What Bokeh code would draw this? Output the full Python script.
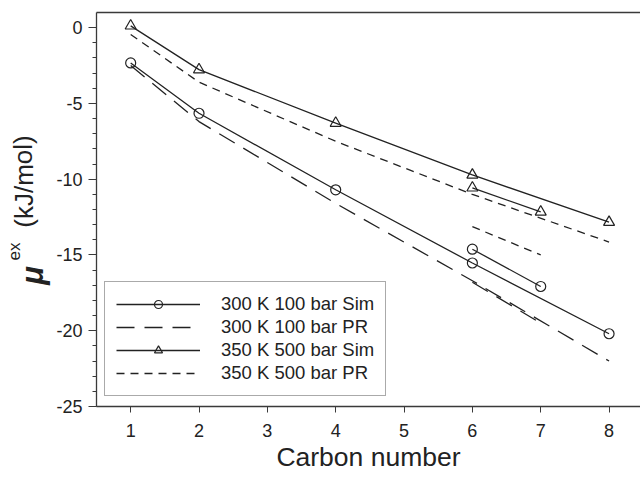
from bokeh.plotting import figure
from bokeh.models import Range1d, LinearAxis, FixedTicker, Legend, LegendItem, Label
from bokeh.layouts import row
from bokeh.embed import file_html
from bokeh.resources import INLINE

# ---- data ----
carbon_main = [1, 2, 4, 6, 8]
carbon_branch = [6, 7]
sim300_main = [-2.33, -5.65, -10.7, -15.53, -20.2]
sim300_branch = [-14.62, -17.08]
pr300_main = [-2.5, -6.2, -11.6, -16.7, -22.0]
pr300_branch = [-16.8, -19.5]
sim350_main = [0.12, -2.77, -6.3, -9.72, -12.84]
sim350_branch = [-10.57, -12.16]
pr350_main = [-0.45, -3.6, -7.5, -11.0, -14.15]
pr350_branch = [-13.13, -15.0]

x_ticks = [1, 2, 3, 4, 5, 6, 7, 8]
y_ticks = [-25, -20, -15, -10, -5, 0]
y_minor = list(range(-25, 1))
labels = ["300 K 100 bar Sim", "300 K 100 bar PR", "350 K 500 bar Sim", "350 K 500 bar PR"]

FONT = "Liberation Sans"
LC = "#222222"
AXC = "#3a3a3a"

TOTAL_H = 477
SIDE_W = 53
FRAME_TOP = 12
FRAME_BOTTOM = 406

p = figure(width=640 - SIDE_W, height=TOTAL_H, output_backend="svg", toolbar_location=None,
           x_range=Range1d(0.5, 8.46), y_range=Range1d(-25, 1),
           min_border_left=41, min_border_right=0, min_border_top=FRAME_TOP,
           min_border_bottom=TOTAL_H - FRAME_BOTTOM)
p.grid.visible = False
p.outline_line_color = None
p.background_fill_color = "white"
p.border_fill_color = "white"

# x axis
xa = p.xaxis[0]
xa.ticker = FixedTicker(ticks=x_ticks)
xa.major_tick_out = 6
xa.major_tick_in = 0
xa.minor_tick_line_color = None
xa.axis_line_color = AXC
xa.axis_line_width = 1.3
xa.major_tick_line_color = AXC
xa.major_label_text_font = FONT
xa.major_label_text_font_size = "18px"
xa.major_label_text_color = LC
xa.major_label_standoff = 11
xa.axis_label = "Carbon number"
xa.axis_label_text_font = FONT
xa.axis_label_text_font_size = "26.5px"
xa.axis_label_text_font_style = "normal"
xa.axis_label_text_color = LC
xa.axis_label_standoff = 2

# y axis
ya = p.yaxis[0]
ya.ticker = FixedTicker(ticks=y_ticks, minor_ticks=y_minor)
ya.major_label_overrides = {t: str(t) for t in y_ticks}
ya.major_tick_out = 8
ya.major_tick_in = 0
ya.minor_tick_out = 4
ya.minor_tick_in = 0
ya.axis_line_color = AXC
ya.axis_line_width = 1.3
ya.major_tick_line_color = AXC
ya.minor_tick_line_color = AXC
ya.major_label_text_font = FONT
ya.major_label_text_font_size = "18px"
ya.major_label_text_color = LC
ya.major_label_standoff = 6

# top frame line
top = LinearAxis(ticker=FixedTicker(ticks=[]), major_tick_out=0, major_tick_in=0,
                 minor_tick_out=0, minor_tick_in=0, major_label_standoff=0,
                 axis_line_color=AXC, axis_line_width=1.3)
p.add_layout(top, "above")

# series
r_sim300_l = p.line(carbon_main, sim300_main, line_color=LC, line_width=1.3)
r_sim300_m = p.scatter(carbon_main, sim300_main, marker="circle", size=10,
                       fill_color=None, line_color=LC, line_width=1.2)
p.line(carbon_branch, sim300_branch, line_color=LC, line_width=1.3)
p.scatter(carbon_branch, sim300_branch, marker="circle", size=10,
          fill_color=None, line_color=LC, line_width=1.2)

r_pr300 = p.line(carbon_main, pr300_main, line_color=LC, line_width=1.3, line_dash="18 10")
p.line(carbon_branch, pr300_branch, line_color=LC, line_width=1.3, line_dash="18 10")

r_sim350_l = p.line(carbon_main, sim350_main, line_color=LC, line_width=1.3)
r_sim350_m = p.scatter(carbon_main, sim350_main, marker="triangle", size=11,
                       fill_color=None, line_color=LC, line_width=1.2)
p.line(carbon_branch, sim350_branch, line_color=LC, line_width=1.3)
p.scatter(carbon_branch, sim350_branch, marker="triangle", size=11,
          fill_color=None, line_color=LC, line_width=1.2)

r_pr350 = p.line(carbon_main, pr350_main, line_color=LC, line_width=1.3, line_dash="8 6")
p.line(carbon_branch, pr350_branch, line_color=LC, line_width=1.3, line_dash="8 6")

legend = Legend(items=[
    LegendItem(label=labels[0], renderers=[r_sim300_l, r_sim300_m]),
    LegendItem(label=labels[1], renderers=[r_pr300]),
    LegendItem(label=labels[2], renderers=[r_sim350_l, r_sim350_m]),
    LegendItem(label=labels[3], renderers=[r_pr350]),
], location=(8, 10))
legend.label_text_font = FONT
legend.label_text_font_size = "18.5px"
legend.label_text_color = LC
legend.glyph_width = 84
legend.glyph_height = 20
legend.label_height = 20
legend.label_standoff = 21
legend.spacing = 1
legend.padding = 11
legend.margin = 0
legend.border_line_color = "#555555"
legend.border_line_width = 1.2
legend.background_fill_color = "white"
legend.background_fill_alpha = 1
p.add_layout(legend)

# side panel (no axes) holding the rotated y-axis title: mu^ex (kJ/mol)
# its frame is aligned with the main frame (top 12 .. bottom 406), so y = pixels above frame bottom
side = figure(width=SIDE_W, height=TOTAL_H, output_backend="svg", toolbar_location=None,
              x_axis_type=None, y_axis_type=None,
              x_range=Range1d(0, SIDE_W), y_range=Range1d(0, FRAME_BOTTOM - FRAME_TOP),
              min_border_left=0, min_border_right=0, min_border_top=FRAME_TOP,
              min_border_bottom=TOTAL_H - FRAME_BOTTOM)
side.grid.visible = False
side.outline_line_color = None
side.background_fill_color = "white"
side.border_fill_color = "white"

side.add_layout(Label(x=32, y=FRAME_BOTTOM - 275, text="\u03bc", angle=1.5708, text_align="center",
                      text_baseline="middle", text_font=FONT, text_font_size="31px",
                      text_font_style="bold italic", text_color=LC))
side.add_layout(Label(x=14, y=FRAME_BOTTOM - 251, text="ex", angle=1.5708, text_align="center",
                      text_baseline="middle", text_font=FONT, text_font_size="17px",
                      text_color=LC))
side.add_layout(Label(x=23, y=FRAME_BOTTOM - 181, text="(kJ/mol)", angle=1.5708, text_align="center",
                      text_baseline="middle", text_font=FONT, text_font_size="26px",
                      text_color=LC))

layout = row(side, p)
open("out.html", "w").write(file_html(layout, INLINE))
